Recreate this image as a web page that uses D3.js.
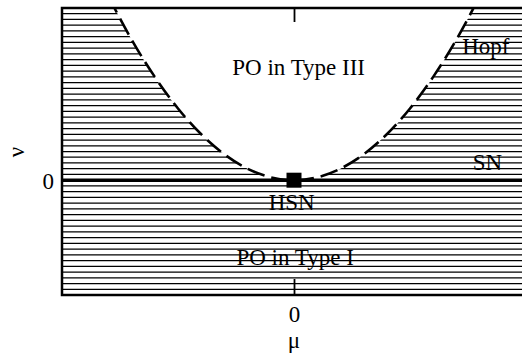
<!DOCTYPE html>
<html>
<head>
<meta charset="utf-8">
<script src="https://cdn.jsdelivr.net/npm/d3@7"></script>
<style>
  body { margin: 0; background: #fff; }
  svg { display: block; }
  svg text { font-family: "Liberation Serif", "Times New Roman", "DejaVu Serif", serif; }
</style>
</head>
<body>
<svg id="chart"></svg>
<script>
// bifurcation diagram near the HSN point
const muDomain = [-1, 1];
const nuDomain = [-1, 1.5];
const xTicks = [0];
const yTicks = [0];

// Hopf curve points (mu, nu)
const hopfMu = [-0.8, -0.7, -0.6, -0.5, -0.4, -0.3, -0.2, -0.1, 0, 0.1, 0.2, 0.3, 0.4, 0.5, 0.6, 0.7, 0.8];
const hopfNu = [1.6, 1.225, 0.9, 0.625, 0.4, 0.225, 0.1, 0.025, 0, 0.025, 0.1, 0.225, 0.4, 0.625, 0.9, 1.225, 1.6];
// saddle-node line along nu = 0
const snMu = [-1, 1];
const snNu = [0, 0];
const hsnPoint = [0, 0];

const labels = [
  { text: "PO in Type III", mu: 0.02, nu: 0.92, anchor: "middle" },
  { text: "PO in Type I", mu: 0.005, nu: -0.74, anchor: "middle" },
  { text: "HSN", mu: -0.01, nu: -0.26, anchor: "middle" },
  { text: "Hopf", mu: 0.725, nu: 1.095, anchor: "start" },
  { text: "SN", mu: 0.77, nu: 0.09, anchor: "start" }
];

const serif = "Liberation Serif, Times New Roman, DejaVu Serif, serif";
const width = 522, height = 356;
const svg = d3.select("#chart").attr("width", width).attr("height", height);

const x = d3.scaleLinear().domain(muDomain).range([62, 526]);
const y = d3.scaleLinear().domain(nuDomain).range([295, 8]);

svg.append("defs").append("clipPath").attr("id", "plot-clip")
  .append("rect")
  .attr("x", x(muDomain[0])).attr("y", y(nuDomain[1]))
  .attr("width", x(muDomain[1]) - x(muDomain[0]))
  .attr("height", y(nuDomain[0]) - y(nuDomain[1]));

const plot = svg.append("g").attr("clip-path", "url(#plot-clip)");

// horizontal hatching fills the whole box, the Type III region gets blanked out
const hatchLevels = d3.range(nuDomain[0], nuDomain[1] + 0.001, 0.05);
plot.selectAll("line.hatch")
  .data(hatchLevels)
  .join("line")
  .attr("class", "hatch")
  .attr("x1", x(muDomain[0])).attr("x2", x(muDomain[1]))
  .attr("y1", d => y(d)).attr("y2", d => y(d))
  .attr("stroke", "#000")
  .attr("stroke-width", 1.25);

const hopf = hopfMu.map((m, i) => [m, hopfNu[i]]);

const area = d3.area()
  .x(d => x(d[0]))
  .y0(y(nuDomain[1]) - 5)
  .y1(d => y(d[1]))
  .curve(d3.curveNatural);

plot.append("path")
  .datum(hopf)
  .attr("d", area)
  .attr("fill", "#fff");

const line = d3.line()
  .x(d => x(d[0]))
  .y(d => y(d[1]))
  .curve(d3.curveNatural);

plot.append("path")
  .datum(hopf)
  .attr("d", line)
  .attr("fill", "none")
  .attr("stroke", "#000")
  .attr("stroke-width", 2.6)
  .attr("stroke-dasharray", "18,7");

// SN line
plot.append("path")
  .datum(snMu.map((m, i) => [m, snNu[i]]))
  .attr("d", d3.line().x(d => x(d[0])).y(d => y(d[1])))
  .attr("stroke", "#000")
  .attr("stroke-width", 3.5);

// frame
svg.append("rect")
  .attr("x", x(muDomain[0])).attr("y", y(nuDomain[1]))
  .attr("width", x(muDomain[1]) - x(muDomain[0]))
  .attr("height", y(nuDomain[0]) - y(nuDomain[1]))
  .attr("fill", "none")
  .attr("stroke", "#000")
  .attr("stroke-width", 2.5);

// ticks
const xAxisBottom = svg.append("g")
  .attr("transform", `translate(0,${y(nuDomain[0])})`)
  .call(d3.axisBottom(x).tickValues(xTicks).tickSize(-16).tickSizeOuter(0).tickFormat(d3.format("d")));
xAxisBottom.select(".domain").remove();
xAxisBottom.selectAll(".tick line").attr("stroke-width", 1.8);
xAxisBottom.selectAll(".tick text")
  .attr("y", 27).attr("dy", 0)
  .attr("font-size", 23).attr("font-family", serif)
  .attr("fill", "#000");

const xAxisTop = svg.append("g")
  .attr("transform", `translate(0,${y(nuDomain[1])})`)
  .call(d3.axisTop(x).tickValues(xTicks).tickSize(-14).tickSizeOuter(0).tickFormat(""));
xAxisTop.select(".domain").remove();
xAxisTop.selectAll(".tick line").attr("stroke-width", 1.8);

const yAxis = svg.append("g")
  .attr("transform", `translate(${x(muDomain[0])},0)`)
  .call(d3.axisLeft(y).tickValues(yTicks).tickSize(0).tickPadding(8).tickFormat(d3.format("d")));
yAxis.select(".domain").remove();
yAxis.selectAll(".tick text")
  .attr("dy", "0.38em")
  .attr("font-size", 23).attr("font-family", serif)
  .attr("fill", "#000");

// HSN point
const sq = 15;
svg.append("rect")
  .attr("x", x(hsnPoint[0]) - sq / 2).attr("y", y(hsnPoint[1]) - sq / 2)
  .attr("width", sq).attr("height", sq)
  .attr("fill", "#000");

// region labels
svg.selectAll("text.region")
  .data(labels)
  .join("text")
  .attr("class", "region")
  .attr("x", d => x(d.mu)).attr("y", d => y(d.nu))
  .attr("text-anchor", d => d.anchor)
  .attr("font-family", serif)
  .attr("font-size", 23)
  .attr("fill", "#000")
  .text(d => d.text);

// axis titles
svg.append("text")
  .attr("x", x(0)).attr("y", 348)
  .attr("text-anchor", "middle")
  .attr("font-family", serif)
  .attr("font-size", 23)
  .text("μ");

svg.append("text")
  .attr("transform", "translate(24,152) rotate(-90)")
  .attr("text-anchor", "middle")
  .attr("font-family", serif)
  .attr("font-size", 23)
  .text("ν");
</script>
</body>
</html>
